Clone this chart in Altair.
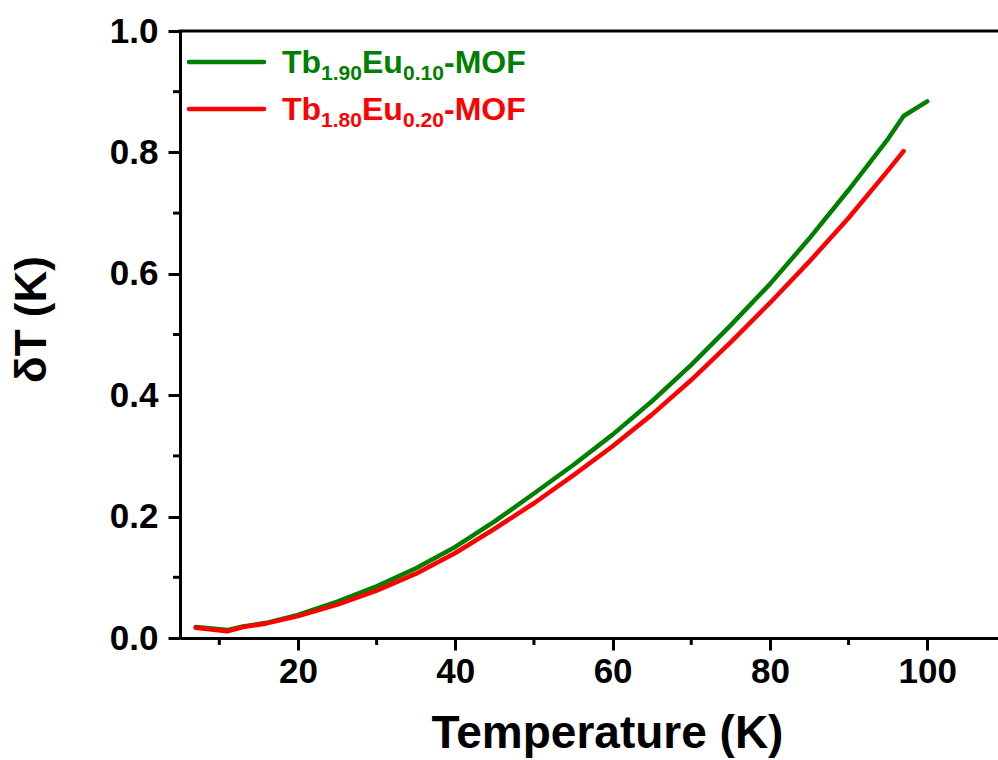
import altair as alt
import pandas as pd

# ---- data ----
temp_green = [7, 11, 13, 16, 20, 25, 30, 35, 40, 45, 50, 55, 60, 65, 70, 75, 80, 85, 90, 95, 97, 100]
dT_green = [0.018, 0.013, 0.019, 0.025, 0.038, 0.060, 0.085, 0.115, 0.150, 0.192, 0.238, 0.285,
            0.335, 0.390, 0.450, 0.515, 0.583, 0.658, 0.738, 0.822, 0.860, 0.884]
temp_red = [7, 11, 13, 16, 20, 25, 30, 35, 40, 45, 50, 55, 60, 65, 70, 75, 80, 85, 90, 95, 97]
dT_red = [0.017, 0.011, 0.018, 0.024, 0.036, 0.055, 0.078, 0.106, 0.140, 0.180, 0.222, 0.268,
          0.316, 0.368, 0.425, 0.487, 0.552, 0.620, 0.692, 0.770, 0.802]
series_names = ["Tb1.90Eu0.10-MOF", "Tb1.80Eu0.20-MOF"]
series_colors = ["#008000", "#ff0000"]
legend_pieces = [["Tb", "1.90", "Eu", "0.10", "-MOF"], ["Tb", "1.80", "Eu", "0.20", "-MOF"]]
x_major = [20, 40, 60, 80, 100]
x_minor = [10, 30, 50, 70, 90]
y_major = [0.0, 0.2, 0.4, 0.6, 0.8, 1.0]
y_minor = [0.1, 0.3, 0.5, 0.7, 0.9]

W, H = 818, 607
FONT = "Liberation Sans"

df = pd.concat([
    pd.DataFrame({"T": temp_green, "dT": dT_green, "s": series_names[0]}),
    pd.DataFrame({"T": temp_red, "dT": dT_red, "s": series_names[1]}),
])

xscale = alt.Scale(domain=[5, 109], nice=False, zero=False)
yscale = alt.Scale(domain=[0, 1], nice=False, zero=False)
x_axis = alt.Axis(
    values=x_major, title="Temperature (K)", tickSize=12, tickWidth=3, domainWidth=3,
    labelFontSize=35, labelPadding=4, titleFontSize=46, titleX=427, titleY=109,
    titleBaseline="alphabetic", titleAnchor="start", titleAlign="center")
y_axis = alt.Axis(
    values=y_major, format=".1f", title="δT (K)", tickSize=12, tickWidth=3, domainWidth=3,
    labelFontSize=35, labelPadding=10, titleFontSize=44, titleX=-135, titleY=288,
    titleBaseline="alphabetic", titleAngle=270, titleAlign="center")

lines = alt.Chart(df).mark_line(strokeWidth=4.5, strokeCap="round", strokeJoin="round", clip=False).encode(
    x=alt.X("T:Q", scale=xscale, axis=x_axis),
    y=alt.Y("dT:Q", scale=yscale, axis=y_axis),
    color=alt.Color("s:N", scale=alt.Scale(domain=series_names, range=series_colors), legend=None),
    detail="s:N",
)

xminor = alt.Chart(pd.DataFrame({"T": x_minor})).mark_rule(strokeWidth=3, color="black").encode(
    x=alt.X("T:Q", scale=xscale, axis=x_axis), y=alt.value(H), y2=alt.value(H + 7))
yminor = alt.Chart(pd.DataFrame({"dT": y_minor})).mark_rule(strokeWidth=3, color="black").encode(
    y=alt.Y("dT:Q", scale=yscale, axis=y_axis), x=alt.value(0), x2=alt.value(-7))
top_line = alt.Chart(pd.DataFrame({"a": [0]})).mark_rule(strokeWidth=3, color="black").encode(
    x=alt.value(-1.5), x2=alt.value(W), y=alt.value(0))

# custom legend (subscripts via separate text pieces)
layers = [lines, xminor, yminor, top_line]
piece_x = [102, 141, 182, 223, 264]
line_y = [31, 78]
base_y = [42, 89]
one = pd.DataFrame({"a": [0]})
for i in range(2):
    layers.append(alt.Chart(one).mark_rule(strokeWidth=4.5, strokeCap="round", color=series_colors[i]).encode(
        x=alt.value(9), x2=alt.value(84), y=alt.value(line_y[i])))
    for j, txt in enumerate(legend_pieces[i]):
        sub = j in (1, 3)
        layers.append(alt.Chart(one).mark_text(
            text=txt, font=FONT, fontWeight="bold", fontSize=21 if sub else 32,
            align="left", baseline="alphabetic", color=series_colors[i]).encode(
            x=alt.value(piece_x[j]), y=alt.value(base_y[i] + (7 if sub else 0))))

chart = alt.layer(*layers).properties(
    width=W, height=H,
    autosize=alt.AutoSizeParams(type="none"),
    padding={"left": 180, "top": 31, "right": 0, "bottom": 122},
    background="white",
).configure_view(stroke=None).configure_axis(
    labelFont=FONT, titleFont=FONT, labelFontWeight="bold", titleFontWeight="bold",
    labelColor="black", titleColor="black", domainColor="black", tickColor="black",
    grid=False,
)

chart.save("out.html", embed_options={"renderer": "svg", "actions": False})
